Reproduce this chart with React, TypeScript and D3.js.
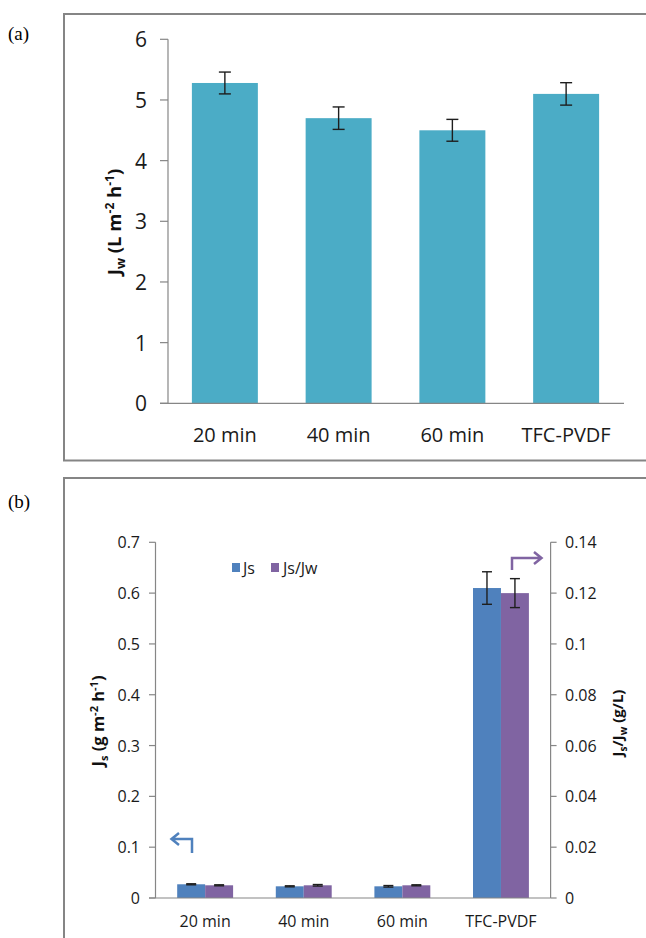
import React from 'react';
import * as d3 from 'd3';

// chart data
const categories = ['20 min', '40 min', '60 min', 'TFC-PVDF'];
const jwValues = [5.28, 4.7, 4.5, 5.1];
const jwErrors = [0.18, 0.185, 0.18, 0.185];
const jsValues = [0.027, 0.023, 0.023, 0.61];
const jsErrors = [0.001, 0.001, 0.0015, 0.032];
const ratioValues = [0.005, 0.005, 0.005, 0.12];
const ratioErrors = [0.0002, 0.0003, 0.0002, 0.0057];
const jwTicks = [0, 1, 2, 3, 4, 5, 6];
const jsTicks = [0, 0.1, 0.2, 0.3, 0.4, 0.5, 0.6, 0.7];
const ratioTicks = [0, 0.02, 0.04, 0.06, 0.08, 0.1, 0.12, 0.14];
const seriesNames = ['Js', 'Js/Jw'];

const W = 646;
const H = 938;
const font = "'Open Sans', 'Liberation Sans', Arial, sans-serif";
const axisColor = '#868686';
const errColor = '#1e1e1e';

const ErrorBar = ({ x, y1, y2, cap = 6 }) => (
    <g stroke={errColor} strokeWidth={1.4}>
        <line x1={x} x2={x} y1={y1} y2={y2} />
        <line x1={x - cap} x2={x + cap} y1={y1} y2={y1} />
        <line x1={x - cap} x2={x + cap} y1={y2} y2={y2} />
    </g>
);

const PanelA = () => {
    const left = 168, right = 623, top = 39.3, bottom = 403.3;
    const x = d3.scaleBand().domain(categories).range([left, right])
        .paddingInner(0.42).paddingOuter(0.21);
    const y = d3.scaleLinear().domain([0, 6]).range([bottom, top]);

    return (
        <g>
            <rect x={64} y={14} width={W} height={446.5} fill="white" stroke="#858585" strokeWidth={2} />
            <text x={8} y={40} fontFamily="'Liberation Serif', serif" fontSize={19}>(a)</text>

            {categories.map((c, i) => (
                <rect key={c} x={x(c)} y={y(jwValues[i])} width={x.bandwidth()}
                    height={y(0) - y(jwValues[i])} fill="#4bacc6" />
            ))}
            {categories.map((c, i) => (
                <ErrorBar key={c} x={x(c) + x.bandwidth() / 2}
                    y1={y(jwValues[i] + jwErrors[i])} y2={y(jwValues[i] - jwErrors[i])} />
            ))}

            <g stroke={axisColor} strokeWidth={1.2}>
                <line x1={left} x2={left} y1={top} y2={bottom} />
                <line x1={160} x2={624} y1={bottom} y2={bottom} />
                {jwTicks.map(t => <line key={t} x1={160} x2={left} y1={y(t)} y2={y(t)} />)}
            </g>
            <g fontFamily={font} fontSize={21} fill="#1a1a1a">
                {jwTicks.map(t => (
                    <text key={t} x={147} y={y(t)} textAnchor="end" dominantBaseline="central">{t}</text>
                ))}
                {categories.map(c => (
                    <text key={c} x={x(c) + x.bandwidth() / 2} y={434} textAnchor="middle"
                        dominantBaseline="central" fontSize={20}>{c}</text>
                ))}
            </g>
            <text transform="translate(121,222) rotate(-90)" textAnchor="middle"
                fontFamily={font} fontSize={18.5} fontWeight="bold" fill="#111">
                J<tspan fontSize={13} dy={4}>w</tspan>
                <tspan dy={-4}> (L m</tspan>
                <tspan fontSize={12} dy={-7}>-2</tspan>
                <tspan dy={7}> h</tspan>
                <tspan fontSize={12} dy={-7}>-1</tspan>
                <tspan dy={7}>)</tspan>
            </text>
        </g>
    );
};

const PanelB = () => {
    const left = 155.5, right = 550.6, top = 542.3, bottom = 898;
    const x = d3.scaleBand().domain(categories).range([left, right])
        .paddingInner(0.433).paddingOuter(0.22);
    const xs = d3.scaleBand().domain(seriesNames).range([0, x.bandwidth()]);
    const yL = d3.scaleLinear().domain([0, 0.7]).range([bottom, top]);
    const yR = d3.scaleLinear().domain([0, 0.14]).range([bottom, top]);
    const colors = d3.scaleOrdinal().domain(seriesNames).range(['#4f81bd', '#8064a2']);

    const series = [
        { name: 'Js', values: jsValues, errors: jsErrors, y: yL },
        { name: 'Js/Jw', values: ratioValues, errors: ratioErrors, y: yR },
    ];

    return (
        <g>
            <rect x={64} y={478} width={W} height={H} fill="white" stroke="#858585" strokeWidth={2} />
            <text x={8} y={508} fontFamily="'Liberation Serif', serif" fontSize={19}>(b)</text>

            {series.map(s => categories.map((c, i) => (
                <rect key={s.name + c} x={x(c) + xs(s.name)} y={s.y(s.values[i])}
                    width={xs.bandwidth()} height={bottom - s.y(s.values[i])} fill={colors(s.name)} />
            )))}
            {series.map(s => categories.map((c, i) => (
                <ErrorBar key={s.name + c} x={x(c) + xs(s.name) + xs.bandwidth() / 2} cap={5}
                    y1={s.y(s.values[i] + s.errors[i])} y2={s.y(s.values[i] - s.errors[i])} />
            )))}

            <g stroke={axisColor} strokeWidth={1.2}>
                <line x1={left} x2={left} y1={top} y2={bottom} />
                <line x1={right} x2={right} y1={top} y2={bottom} />
                <line x1={149} x2={right} y1={bottom} y2={bottom} />
                {jsTicks.map(t => <line key={t} x1={149} x2={left} y1={yL(t)} y2={yL(t)} />)}
                {ratioTicks.map(t => <line key={t} x1={right} x2={right + 6} y1={yR(t)} y2={yR(t)} />)}
            </g>
            <g fontFamily={font} fontSize={16} fill="#1a1a1a">
                {jsTicks.map(t => (
                    <text key={t} x={140} y={yL(t)} textAnchor="end" dominantBaseline="central">{t}</text>
                ))}
                {ratioTicks.map(t => (
                    <text key={t} x={565} y={yR(t)} dominantBaseline="central">{t}</text>
                ))}
                {categories.map(c => (
                    <text key={c} x={x(c) + x.bandwidth() / 2} y={921} textAnchor="middle"
                        dominantBaseline="central">{c}</text>
                ))}
            </g>

            {/* legend */}
            <g fontFamily={font} fontSize={16} fill="#1a1a1a">
                <rect x={232} y={563} width={8} height={9} fill={colors('Js')} />
                <text x={243} y={568} dominantBaseline="central">Js</text>
                <rect x={271} y={563} width={8} height={9} fill={colors('Js/Jw')} />
                <text x={283} y={568} dominantBaseline="central">Js/Jw</text>
            </g>

            {/* axis arrows */}
            <g fill="none" strokeWidth={2.5} strokeLinejoin="miter">
                <path d="M192,853 V839 H172 M179,833 L171.5,839 L179,845" stroke="#4f81bd" />
                <path d="M512,570 V558 H541 M534,552 L541.5,558 L534,564" stroke="#8064a2" />
            </g>

            <text transform="translate(104,721) rotate(-90)" textAnchor="middle"
                fontFamily={font} fontSize={16.5} fontWeight="bold" fill="#111">
                J<tspan fontSize={11} dy={4}>s</tspan>
                <tspan dy={-4}> (g m</tspan>
                <tspan fontSize={11} dy={-6}>-2</tspan>
                <tspan dy={6}> h</tspan>
                <tspan fontSize={11} dy={-6}>-1</tspan>
                <tspan dy={6}>)</tspan>
            </text>
            <text transform="translate(623,723) rotate(-90)" textAnchor="middle"
                fontFamily={font} fontSize={15} fontWeight="bold" fill="#111">
                J<tspan fontSize={10} dy={4}>s</tspan>
                <tspan dy={-4}>/J</tspan>
                <tspan fontSize={10} dy={4}>w</tspan>
                <tspan dy={-4}> (g/L)</tspan>
            </text>
        </g>
    );
};

export default function App() {
    return (
        <svg width={W} height={H} viewBox={`0 0 ${W} ${H}`}
            style={{ position: 'absolute', left: 0, top: 0, background: 'white' }}>
            <PanelA />
            <PanelB />
        </svg>
    );
}
